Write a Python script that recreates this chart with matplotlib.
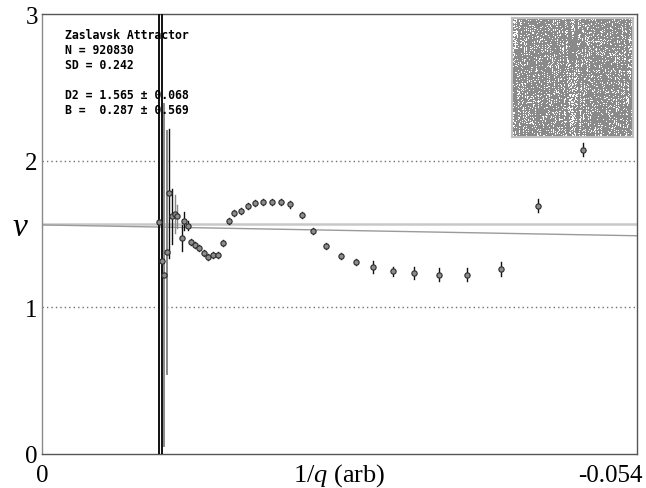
import numpy as np
import matplotlib
matplotlib.use("Agg")
import matplotlib.pyplot as plt
import matplotlib.transforms as mtransforms

# ---- data ----
inv_q = [-0.01065, -0.01089, -0.01107, -0.01132, -0.01155, -0.01183, -0.01207, -0.01228,
         -0.01268, -0.01291, -0.01325, -0.01355, -0.01391, -0.01425, -0.01470, -0.01509,
         -0.01555, -0.01595, -0.01645, -0.01697, -0.01745, -0.01809, -0.01867, -0.01936,
         -0.02008, -0.02085, -0.02169, -0.02251, -0.02357, -0.02457, -0.02577, -0.02711,
         -0.02847, -0.03007, -0.03186, -0.03379, -0.03606, -0.03860, -0.04163, -0.04506,
         -0.04910]
nu = [1.579, 1.318, 1.220, 1.375, 1.779, 1.620, 1.636, 1.620,
      1.472, 1.588, 1.556, 1.445, 1.425, 1.406, 1.370, 1.345,
      1.354, 1.354, 1.438, 1.588, 1.645, 1.656, 1.688, 1.709,
      1.716, 1.716, 1.716, 1.702, 1.631, 1.518, 1.416, 1.350,
      1.307, 1.277, 1.247, 1.234, 1.222, 1.222, 1.261, 1.693,
      2.074]
nu_err = [3.0, 3.0, 1.165, 0.83, 0.44, 0.19, 0.13, 0.08,
          0.09, 0.06, 0.03, 0.02, 0.02, 0.02, 0.02, 0.02,
          0.02, 0.02, 0.02, 0.02, 0.02, 0.02, 0.02, 0.02,
          0.02, 0.02, 0.02, 0.025, 0.02, 0.02, 0.02, 0.02,
          0.02, 0.04, 0.03, 0.04, 0.045, 0.045, 0.05, 0.045,
          0.045]
D2 = 1.565
fit_x = [0.0, -0.054]
fit_y = [1.562, 1.488]
x_ticks = [0.0, -0.054]
x_ticklabels = ["0", "-0.054"]
y_ticks = [0, 1, 2, 3]
info_lines = ["Zaslavsk Attractor", "N = 920830", "SD = 0.242", "",
              "D2 = 1.565 \u00b1 0.068", "B =  0.287 \u00b1 0.569"]

# Zaslavsky map parameters for the inset (shown in delay coordinates)
zas_nu, zas_r, zas_eps, zas_n = 400.0 / 3.0, 3.0, 0.3, 30000

plt.rcParams['mathtext.fontset'] = 'custom'
plt.rcParams['mathtext.rm'] = 'Liberation Serif'
plt.rcParams['mathtext.it'] = 'Liberation Serif:italic'

W, H = 646, 489
fig = plt.figure(figsize=(W / 100, H / 100), dpi=100)
ax = fig.add_axes([42 / W, 1 - 455 / H, 595 / W, 440 / H])
ax.set_xlim(0, -0.054)
ax.set_ylim(0, 3)

# grid lines
for yv in (1, 2):
    ax.axhline(yv, color='#707070', lw=1.0, ls=(0, (1, 2.2)), zorder=1)

# D2 line and fit line
ax.axhline(D2, color='#c8c8c8', lw=1.8, zorder=2)
ax.plot(fit_x, fit_y, color='#9a9a9a', lw=1.0, zorder=2)

# error bars
for i, (xv, yv, ev) in enumerate(zip(inv_q, nu, nu_err)):
    col = '#888888' if (i in (2, 3, 6, 7)) else '#111111'
    lw = 1.4 if i < 4 else 1.0
    ax.plot([xv, xv], [yv - ev, yv + ev], color=col, lw=lw, zorder=3, clip_on=True)

ax.plot(inv_q, nu, ls='none', marker='o', ms=3.8, mfc='#8c8c8c', mec='#2a2a2a',
        mew=0.8, zorder=4)

# spines and ticks
for s in ax.spines.values():
    s.set_color('#555555')
    s.set_linewidth(1.0)
ax.spines['left'].set_color('#8a8a8a')
ax.set_xticks(x_ticks)
ax.set_xticklabels(x_ticklabels)
ax.set_yticks(y_ticks)
ax.tick_params(length=0, labelsize=18)
ax.tick_params(axis='x', pad=7)
ax.tick_params(axis='y', pad=3)
for lab in ax.get_xticklabels() + ax.get_yticklabels():
    lab.set_fontfamily('Liberation Serif')
xl = ax.get_xticklabels()
xl[-1].set_horizontalalignment('right')
xl[-1].set_transform(xl[-1].get_transform() +
                     mtransforms.ScaledTranslation(6 / 100, 0, fig.dpi_scale_trans))

ax.text(0.5, 0.0, r"1/$q$ (arb)", ha='center', va='top', fontsize=19,
        family='Liberation Serif',
        transform=ax.transAxes + mtransforms.ScaledTranslation(0, -7 / 100, fig.dpi_scale_trans))

fig.text(20 / W, 1 - 228 / H, "\u03bd", fontsize=24, family='Liberation Serif',
         style='italic', ha='center', va='center')

ax.text(0.038, 0.968, "\n".join(info_lines), transform=ax.transAxes, ha='left', va='top',
        family='DejaVu Sans Mono', fontweight='bold', fontsize=8.3, linespacing=1.2,
        zorder=5)

# inset: Zaslavsky attractor in delay coordinates (x_n, x_n+1)
mu = (1 - np.exp(-zas_r)) / zas_r
xs = np.empty(zas_n + 1)
x, y = 0.1, 0.1
for k in range(zas_n + 101):
    c = np.cos(2 * np.pi * x)
    x_new = (x + zas_nu * (1 + mu * y) + zas_eps * zas_nu * mu * c) % 1.0
    y = np.exp(-zas_r) * (y + zas_eps * c)
    x = x_new
    if k >= 100:
        xs[k - 100] = x
iax = fig.add_axes([512 / W, 1 - 138 / H, 121 / W, 119 / H])
iax.scatter(xs[:-1], xs[1:], s=(72 / 100) ** 2, marker='s', color='#8a8a8a', linewidths=0)
iax.set_xticks([])
iax.set_yticks([])
iax.set_xlim(0, 1)
iax.set_ylim(0, 1)
for s in iax.spines.values():
    s.set_color('#c0c0c0')
    s.set_linewidth(1.5)

fig.savefig("out.png", dpi=100)
